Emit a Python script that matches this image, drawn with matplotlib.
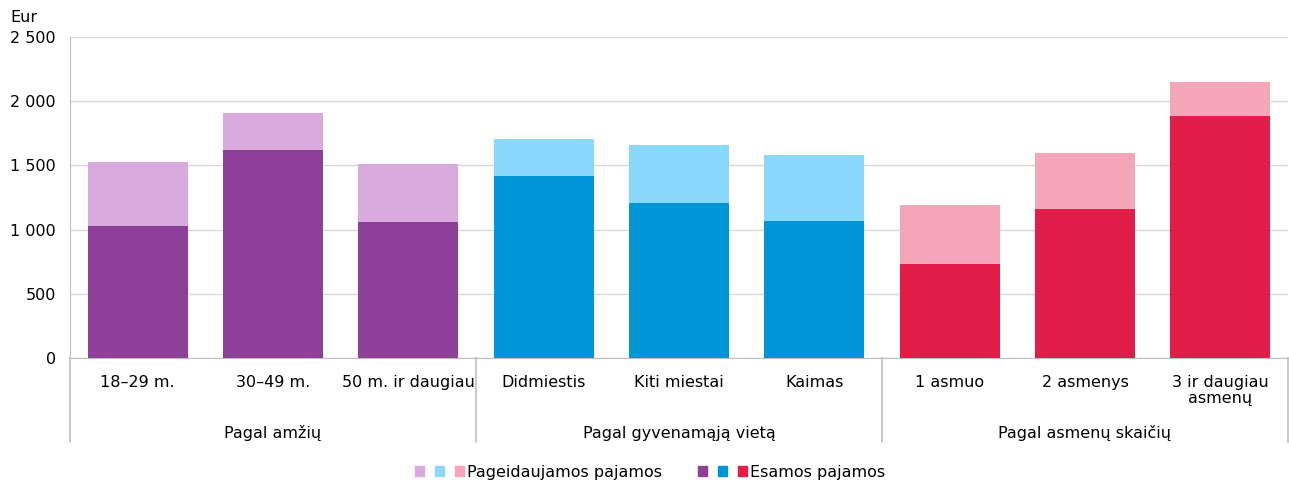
import matplotlib.pyplot as plt
from matplotlib.patches import Patch
from matplotlib.legend_handler import HandlerTuple
from matplotlib.transforms import blended_transform_factory

categories = ["18–29 m.", "30–49 m.", "50 m. ir daugiau",
              "Didmiestis", "Kiti miestai", "Kaimas",
              "1 asmuo", "2 asmenys", "3 ir daugiau\nasmenų"]
groups = ["Pagal amžių", "Pagal gyvenamąją vietą", "Pagal asmenų skaičių"]
wanted = [1526, 1908, 1511, 1706, 1659, 1581, 1192, 1597, 2150]
current = [1028, 1620, 1059, 1417, 1207, 1067, 732, 1160, 1885]

light_cols = ["#D9AADD", "#8AD8FC", "#F4A5B7"]
dark_cols = ["#8E3F98", "#0096D6", "#E31D49"]

fs = 11.5
plt.rcParams['font.family'] = ['DejaVu Sans']
fig = plt.figure(figsize=(12.89, 4.82), dpi=100)
ax = fig.add_axes([70/1289, 124/482, 1218/1289, 321/482])

x = list(range(len(categories)))
lc = [light_cols[i // 3] for i in x]
dc = [dark_cols[i // 3] for i in x]
ax.bar(x, wanted, width=0.74, color=lc, zorder=2)
ax.bar(x, current, width=0.74, color=dc, zorder=3)

ax.set_xlim(-0.5, 8.5)
ax.set_ylim(0, 2500)
ax.set_yticks(range(0, 2501, 500))
ax.set_yticklabels([f"{v:,}".replace(",", " ") for v in range(0, 2501, 500)], fontsize=fs)
ax.set_xticks(x)
ax.set_xticklabels(categories, fontsize=fs, linespacing=1.15, va="top")
ax.tick_params(axis="x", length=0, pad=12)
ax.tick_params(axis="y", length=0, pad=10)
ax.grid(axis="y", color="#D9D9D9", linewidth=1, zorder=0)
for s in ["top", "right"]:
    ax.spines[s].set_visible(False)
ax.spines["left"].set_color("#BFBFBF")
ax.spines["bottom"].set_color("#BFBFBF")

tr = blended_transform_factory(ax.transData, ax.transAxes)
for xs in [-0.5, 2.5, 5.5, 8.5]:
    ax.plot([xs, xs], [0, -0.262], transform=tr, color="#BFBFBF", lw=1.2, clip_on=False)
for i, g in enumerate(groups):
    ax.text(3 * i + 1, -0.235, g, transform=tr, ha="center", va="center", fontsize=fs)

fig.text(10 / 1289, 1 - 17 / 482, "Eur", fontsize=fs, va="center")

h1 = tuple(Patch(color=c) for c in light_cols)
h2 = tuple(Patch(color=c) for c in dark_cols)
fig.legend([h1, h2], ["Pageidaujamos pajamos", "Esamos pajamos"],
           handler_map={tuple: HandlerTuple(ndivide=None, pad=0.7)},
           loc="center", bbox_to_anchor=(650 / 1289, 1 - 472 / 482),
           ncol=2, frameon=False, fontsize=fs, handlelength=3.1, handleheight=0.6,
           handletextpad=0.2, columnspacing=2.2)

fig.savefig("out.png", dpi=100)
